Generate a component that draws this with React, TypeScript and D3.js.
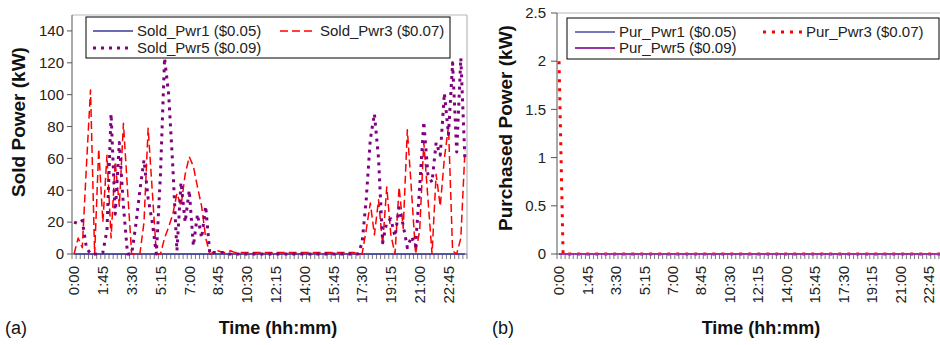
import React from 'react';
import * as d3 from 'd3';

// 96 quarter-hour categories, 0:00 .. 23:45
const times: string[] = d3.range(96).map(
  (i) => `${Math.floor(i / 4)}:${String((i % 4) * 15).padStart(2, '0')}`
);

const soldPwr1: number[] = [
  0,0,0,0,0,0,0,0,0,0,0,0,0,0,0,0,0,0,0,0,0,0,0,0,
  0,0,0,0,0,0,0,0,0,0,0,0,0,0,0,0,0,0,0,0,0,0,0,0,
  0,0,0,0,0,0,0,0,0,0,0,0,0,0,0,0,0,0,0,0,0,0,0,0,
  0,0,0,0,0,0,0,0,0,0,0,0,0,0,0,0,0,0,0,0,0,0,0,0,
];
const soldPwr3: number[] = [
  0,10,4,55,103,0,66,20,62,10,58,30,82,40,0,0,0,20,79,40,0,0,10,17,
  25,38,30,50,61,55,42,30,10,0,1,2,1,1,2,1,1,1,1,1,1,1,1,1,
  1,1,1,1,1,1,1,1,1,1,1,1,1,1,1,1,1,1,1,1,1,0,0,15,
  32,12,34,6,42,12,0,42,16,78,40,0,15,70,35,0,50,30,60,80,2,0,10,65,
];
const soldPwr5: number[] = [
  20,19,21,4,0,0,0,1,15,88,25,70,30,0,0,18,40,59,35,20,0,50,123,100,
  55,2,45,20,40,5,25,10,30,0,1,1,1,0,0,0,0,0,0,0,0,0,0,0,
  0,0,0,0,0,0,0,0,0,0,0,0,0,0,0,0,0,0,0,0,0,0,7,34,
  72,88,60,7,20,22,11,29,18,4,11,5,42,83,50,45,70,62,101,75,120,64,123,59,
];
const purPwr1: number[] = [
  0,0,0,0,0,0,0,0,0,0,0,0,0,0,0,0,0,0,0,0,0,0,0,0,
  0,0,0,0,0,0,0,0,0,0,0,0,0,0,0,0,0,0,0,0,0,0,0,0,
  0,0,0,0,0,0,0,0,0,0,0,0,0,0,0,0,0,0,0,0,0,0,0,0,
  0,0,0,0,0,0,0,0,0,0,0,0,0,0,0,0,0,0,0,0,0,0,0,0,
];
const purPwr3: number[] = [
  2,0,0,0,0,0,0,0,0,0,0,0,0,0,0,0,0,0,0,0,0,0,0,0,
  0,0,0,0,0,0,0,0,0,0,0,0,0,0,0,0,0,0,0,0,0,0,0,0,
  0,0,0,0,0,0,0,0,0,0,0,0,0,0,0,0,0,0,0,0,0,0,0,0,
  0,0,0,0,0,0,0,0,0,0,0,0,0,0,0,0,0,0,0,0,0,0,0,0,
];
const purPwr5: number[] = purPwr1.slice();

const soldTicks = [0, 20, 40, 60, 80, 100, 120, 140];
const purTicks = [0, 0.5, 1, 1.5, 2, 2.5];

const FONT = '"Liberation Sans", Arial, sans-serif';

type Style = { color: string; width: number; dash?: string };
type Series = { name: string; values: number[]; style: Style };

const soldSeries: Series[] = [
  { name: 'Sold_Pwr1 ($0.05)', values: soldPwr1, style: { color: '#3a3a9a', width: 1.3 } },
  { name: 'Sold_Pwr3 ($0.07)', values: soldPwr3, style: { color: '#ff0000', width: 1.5, dash: '8,4' } },
  { name: 'Sold_Pwr5 ($0.09)', values: soldPwr5, style: { color: '#800080', width: 3, dash: '3,5' } },
];
const purSeries: Series[] = [
  { name: 'Pur_Pwr1 ($0.05)', values: purPwr1, style: { color: '#4a4aa8', width: 1.3 } },
  { name: 'Pur_Pwr3 ($0.07)', values: purPwr3, style: { color: '#ff0000', width: 3, dash: '3,6' } },
  { name: 'Pur_Pwr5 ($0.09)', values: purPwr5, style: { color: '#9933a8', width: 2 } },
];

type PanelProps = {
  left: number; width: number; right: number; top: number; bottom: number;
  yMax: number; yTicks: number[]; series: Series[];
  yTitle: string; yTitleX: number; yTitleY: number;
  xTitleX: number; label: string; labelX: number;
  legend: { x: number; y: number; w: number; h: number; col1: number; col2: number; sampleW1: number; sampleW2: number; row1: number; row2: number };
  labelEnd: number; tickLen: number;
};

function Panel(p: PanelProps) {
  const x = d3.scaleBand<string>().domain(times).range([p.left, p.left + p.width]).padding(0);
  const y = d3.scaleLinear().domain([0, p.yMax]).range([p.bottom, p.top]);
  const cx = (i: number) => (x(times[i]) as number) + x.bandwidth() / 2;
  const line = d3
    .line<number>()
    .x((_, i) => cx(i))
    .y((d) => y(d));
  const clipId = `clip-${p.label.replace(/\W/g, '')}`;
  const legendPos = [
    { x: p.legend.col1, y: p.legend.row1, w: p.legend.sampleW1 },
    { x: p.legend.col2, y: p.legend.row1, w: p.legend.sampleW2 },
    { x: p.legend.col1, y: p.legend.row2, w: p.legend.sampleW1 },
  ];
  return (
    <g>
      <defs>
        <clipPath id={clipId}>
          <rect x={p.left - 2} y={p.top - 2} width={p.right - p.left + 4} height={p.bottom - p.top + 6} />
        </clipPath>
      </defs>
      {/* plot area border */}
      <line x1={p.left} x2={p.right} y1={p.top} y2={p.top} stroke="#b8b8b8" strokeWidth={1.2} />
      <line x1={p.right} x2={p.right} y1={p.top} y2={p.bottom} stroke="#b8b8b8" strokeWidth={1.2} />
      {/* y axis */}
      <line x1={p.left} x2={p.left} y1={p.top} y2={p.bottom} stroke="#555" strokeWidth={1} />
      {p.yTicks.map((t) => (
        <g key={t}>
          <line x1={p.left - p.tickLen} x2={p.left} y1={y(t)} y2={y(t)} stroke="#555" />
          <text x={p.labelEnd} y={y(t)} dy="0.35em" textAnchor="end" fontSize={15} fontFamily={FONT} fill="#222">
            {String(t)}
          </text>
        </g>
      ))}
      {/* x axis */}
      <line x1={p.left} x2={p.left + p.width} y1={p.bottom} y2={p.bottom} stroke="#555" strokeWidth={1} />
      {times.map((t) => (
        <line key={t} x1={x(t) as number} x2={x(t) as number} y1={p.bottom} y2={p.bottom + 5} stroke="#555" strokeWidth={0.8} />
      ))}
      <line x1={p.left + p.width} x2={p.left + p.width} y1={p.bottom} y2={p.bottom + 5} stroke="#555" strokeWidth={0.8} />
      {times.map((t, i) =>
        i % 7 === 0 ? (
          <text
            key={'l' + t}
            transform={`translate(${cx(i)},${p.bottom + 12}) rotate(-90)`}
            dy="0.35em"
            textAnchor="end"
            fontSize={15}
            fontFamily={FONT}
            fill="#222"
          >
            {t}
          </text>
        ) : null
      )}
      {/* series */}
      <g clipPath={`url(#${clipId})`}>
        {p.series.map((s) => (
          <path
            key={s.name}
            d={line(s.values) as string}
            fill="none"
            stroke={s.style.color}
            strokeWidth={s.style.width}
            strokeDasharray={s.style.dash}
            strokeLinejoin="round"
          />
        ))}
      </g>
      {/* legend */}
      <rect x={p.legend.x} y={p.legend.y} width={p.legend.w} height={p.legend.h} fill="#fff" stroke="#000" strokeWidth={1} />
      {p.series.map((s, k) => (
        <g key={'lg' + s.name}>
          <line
            x1={legendPos[k].x}
            x2={legendPos[k].x + legendPos[k].w}
            y1={legendPos[k].y}
            y2={legendPos[k].y}
            stroke={s.style.color}
            strokeWidth={s.style.width}
            strokeDasharray={s.style.dash}
          />
          <text x={legendPos[k].x + legendPos[k].w + 4} y={legendPos[k].y} dy="0.35em" fontSize={15} fontFamily={FONT} fill="#222">
            {s.name}
          </text>
        </g>
      ))}
      {/* titles */}
      <text
        transform={`translate(${p.yTitleX},${p.yTitleY}) rotate(-90)`}
        dy="0.35em"
        textAnchor="middle"
        fontSize={19}
        fontWeight="bold"
        fontFamily={FONT}
        fill="#111"
      >
        {p.yTitle}
      </text>
      <text x={p.xTitleX} y={334} textAnchor="middle" fontSize={18} fontWeight="bold" fontFamily={FONT} fill="#111">
        Time (hh:mm)
      </text>
      <text x={p.labelX} y={334} fontSize={18} fontFamily={FONT} fill="#111">
        {p.label}
      </text>
    </g>
  );
}

export default function App() {
  return (
    <svg width={940} height={345} style={{ position: 'absolute', left: 0, top: 0, background: '#fff' }}>
      <rect width={940} height={345} fill="#fff" />
      <Panel
        left={72}
        width={395}
        right={467}
        top={15}
        bottom={254}
        yMax={150}
        yTicks={soldTicks}
        series={soldSeries}
        yTitle="Sold Power (kW)"
        yTitleX={18}
        yTitleY={122}
        xTitleX={278}
        label="(a)"
        labelX={5}
        labelEnd={64}
        tickLen={5}
        legend={{ x: 86, y: 17, w: 364, h: 41, col1: 93, col2: 280, sampleW1: 40, sampleW2: 36, row1: 31, row2: 48 }}
      />
      <Panel
        left={557}
        width={390}
        right={960}
        top={13}
        bottom={254}
        yMax={2.5}
        yTicks={purTicks}
        series={purSeries}
        yTitle="Purchased Power (kW)"
        yTitleX={505}
        yTitleY={128}
        xTitleX={761}
        label="(b)"
        labelX={492}
        labelEnd={546}
        tickLen={6}
        legend={{ x: 567, y: 18, w: 372, h: 41, col1: 575, col2: 763, sampleW1: 40, sampleW2: 39, row1: 32, row2: 48 }}
      />
    </svg>
  );
}
